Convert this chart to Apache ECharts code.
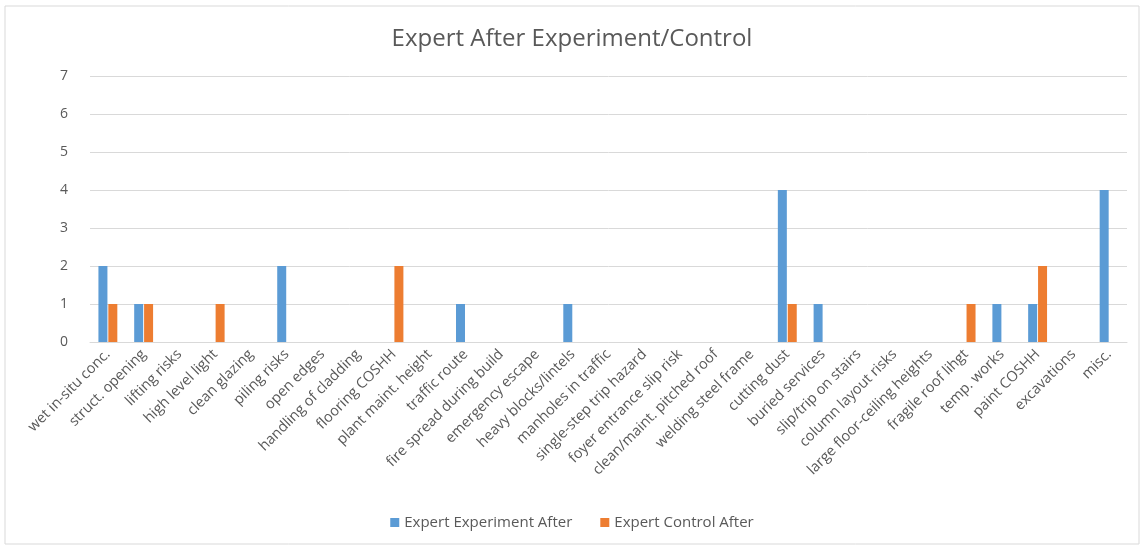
<!DOCTYPE html>
<html>
<head>
<meta charset="utf-8">
<script src="https://cdn.jsdelivr.net/npm/echarts@6/dist/echarts.min.js"></script>
<style>
  html, body { margin: 0; padding: 0; background: #fff; }
  #main { width: 1144px; height: 547px; }
</style>
</head>
<body>
<div id="main"></div>
<script>
var categories = ['wet in-situ conc.', 'struct. opening', 'lifting risks', 'high level light', 'clean glazing',
  'piling risks', 'open edges', 'handling of cladding', 'flooring COSHH', 'plant maint. height',
  'traffic route', 'fire spread during build', 'emergency escape', 'heavy blocks/lintels', 'manholes in traffic',
  'single-step trip hazard', 'foyer entrance slip risk', 'clean/maint. pitched roof', 'welding steel frame', 'cutting dust',
  'buried services', 'slip/trip on stairs', 'column layout risks', 'large floor-ceiling heights', 'fragile roof lihgt',
  'temp. works', 'paint COSHH', 'excavations', 'misc.'];
var experimentAfter = [2, 1, 0, 0, 0, 2, 0, 0, 0, 0, 1, 0, 0, 1, 0, 0, 0, 0, 0, 4, 1, 0, 0, 0, 0, 1, 1, 0, 4];
var controlAfter    = [1, 1, 0, 1, 0, 0, 0, 0, 2, 0, 0, 0, 0, 0, 0, 0, 0, 0, 0, 1, 0, 0, 0, 0, 1, 0, 2, 0, 0];

var myChart = echarts.init(document.getElementById('main'));
var textColor = '#595959';
var option = {
  animation: false,
  textStyle: { fontFamily: 'Open Sans' },
  graphic: [{
    type: 'rect',
    shape: { x: 5, y: 6, width: 1134, height: 538 },
    style: { fill: 'none', stroke: '#d9d9d9', lineWidth: 1 },
    silent: true
  }],
  title: {
    text: 'Expert After Experiment/Control',
    left: 'center',
    top: 22,
    textStyle: { fontSize: 24, fontWeight: 'normal', color: textColor, fontFamily: 'Open Sans' }
  },
  legend: {
    bottom: 12,
    left: 'center',
    itemWidth: 9,
    itemHeight: 9,
    itemGap: 28,
    icon: 'rect',
    textStyle: { fontSize: 15, color: textColor }
  },
  grid: { left: 90, right: 17, top: 76, bottom: 205 },
  xAxis: {
    type: 'category',
    data: categories,
    axisLine: { lineStyle: { color: '#d9d9d9' } },
    axisTick: { show: false },
    axisLabel: { interval: 0, rotate: 45, fontSize: 14.5, color: textColor, margin: 10 }
  },
  yAxis: {
    type: 'value',
    min: 0,
    max: 7,
    interval: 1,
    axisLabel: { fontSize: 14, color: textColor, margin: 22 },
    splitLine: { lineStyle: { color: '#d9d9d9' } },
    axisLine: { show: false },
    axisTick: { show: false }
  },
  series: [
    {
      name: 'Expert Experiment After',
      type: 'bar',
      data: experimentAfter,
      barWidth: 9,
      barGap: '10%',
      itemStyle: { color: '#5B9BD5' }
    },
    {
      name: 'Expert Control After',
      type: 'bar',
      data: controlAfter,
      barWidth: 9,
      itemStyle: { color: '#ED7D31' }
    }
  ]
};
myChart.setOption(option);
</script>
</body>
</html>
